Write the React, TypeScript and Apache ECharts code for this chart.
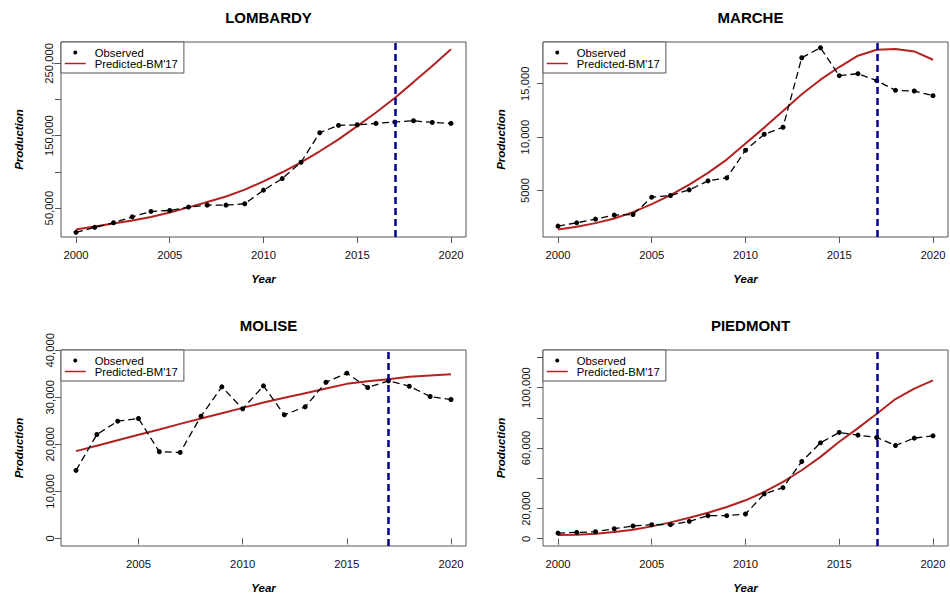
import React, { useEffect, useRef } from "react";
import * as echarts from "echarts";

const yearsAll = [2000, 2001, 2002, 2003, 2004, 2005, 2006, 2007, 2008, 2009, 2010, 2011, 2012, 2013, 2014, 2015, 2016, 2017, 2018, 2019, 2020];
const yearsMolise = [2002, 2003, 2004, 2005, 2006, 2007, 2008, 2009, 2010, 2011, 2012, 2013, 2014, 2015, 2016, 2017, 2018, 2019, 2020];

const lombardyObserved = [16500, 23400, 29800, 38000, 45400, 46800, 51400, 54100, 54100, 56000, 74800, 90800, 113300, 154100, 164200, 165100, 167000, 168800, 170600, 168300, 167000];
const lombardyPredicted = [20600, 24500, 28700, 33000, 37800, 44000, 51000, 58500, 66000, 75500, 87000, 99500, 113300, 128500, 145000, 163300, 182000, 202000, 224000, 246300, 269300];

const marcheObserved = [1667, 1978, 2321, 2695, 2757, 4377, 4533, 5062, 5903, 6184, 8769, 10264, 10919, 17429, 18363, 15747, 15934, 15280, 14376, 14314, 13878];
const marchePredicted = [1355, 1605, 1947, 2383, 2975, 3723, 4564, 5560, 6651, 7897, 9392, 10887, 12445, 14002, 15373, 16557, 17616, 18177, 18239, 18021, 17242];

const moliseObserved = [14440, 22090, 24920, 25490, 18410, 18270, 25980, 32210, 27540, 32420, 26270, 27960, 33200, 35120, 32070, 33490, 32350, 30160, 29520];
const molisePredicted = [18550, 19680, 20880, 22020, 23150, 24350, 25490, 26620, 27750, 28880, 29880, 30870, 31860, 32850, 33420, 33840, 34340, 34620, 34900];

const piedmontObserved = [3757, 4199, 4641, 6630, 8398, 9282, 9282, 11492, 15249, 15249, 16354, 29614, 33813, 51051, 63427, 70278, 68510, 66963, 61659, 66521, 68068];
const piedmontPredicted = [2431, 2652, 3315, 4420, 5967, 8177, 10829, 13923, 17238, 20995, 25415, 30940, 37570, 45305, 54145, 64090, 73151, 82654, 92378, 99229, 104754];

const xTicksAll = [2000, 2005, 2010, 2015, 2020];
const xTicksMolise = [2005, 2010, 2015, 2020];

const lombardyYTicks = [50000, 100000, 150000, 200000, 250000];
const lombardyYLabels = [50000, 150000, 250000];
const marcheYTicks = [5000, 10000, 15000];
const marcheYLabels = [5000, 10000, 15000];
const moliseYTicks = [0, 10000, 20000, 30000, 40000];
const moliseYLabels = [0, 10000, 20000, 30000, 40000];
const piedmontYTicks = [0, 20000, 40000, 60000, 80000, 100000, 120000];
const piedmontYLabels = [0, 20000, 60000, 100000];

const cutoffYear = 2017;
const observedName = "Observed";
const predictedName = "Predicted-BM'17";

const FONT = "'Liberation Sans', Arial, sans-serif";

const panels = [
  { title: "LOMBARDY", years: yearsAll, obs: lombardyObserved, pred: lombardyPredicted, xTicks: xTicksAll, yTicks: lombardyYTicks, yLabels: lombardyYLabels,
    xMin: 1999.2, xMax: 2020.8, yMin: 10100, yMax: 279400, left: 61, top: 42, width: 405, height: 195, labelMargin: 7 },
  { title: "MARCHE", years: yearsAll, obs: marcheObserved, pred: marchePredicted, xTicks: xTicksAll, yTicks: marcheYTicks, yLabels: marcheYLabels,
    xMin: 1999.2, xMax: 2020.8, yMin: 650, yMax: 18900, left: 543, top: 42, width: 405, height: 195, labelMargin: 13 },
  { title: "MOLISE", years: yearsMolise, obs: moliseObserved, pred: molisePredicted, xTicks: xTicksMolise, yTicks: moliseYTicks, yLabels: moliseYLabels,
    xMin: 2001.28, xMax: 2020.72, yMin: -1620, yMax: 40050, left: 61, top: 350, width: 405, height: 196, labelMargin: 6 },
  { title: "PIEDMONT", years: yearsAll, obs: piedmontObserved, pred: piedmontPredicted, xTicks: xTicksAll, yTicks: piedmontYTicks, yLabels: piedmontYLabels,
    xMin: 1999.2, xMax: 2020.8, yMin: -4800, yMax: 124800, left: 543, top: 350, width: 405, height: 196, labelMargin: 12 },
];

const fmt = (v: number) => (Math.abs(v) >= 10000 ? v.toLocaleString("en-US") : String(v));

export default function App() {
  const ref = useRef<HTMLDivElement>(null);
  useEffect(() => {
    if (!ref.current) return;
    const chart = echarts.init(ref.current, undefined, { renderer: "svg" });
    const border = "#555";
    const option: any = {
      animation: false,
      backgroundColor: "#fff",
      title: panels.map((p) => ({
        text: p.title,
        left: p.left + p.width / 2,
        top: p.top - 37,
        textAlign: "center",
        textStyle: { fontFamily: FONT, fontWeight: "bold", fontSize: 15, color: "#000" },
      })),
      grid: panels.map((p) => ({
        left: p.left, top: p.top, width: p.width, height: p.height,
        show: true, borderColor: border, borderWidth: 1, backgroundColor: "transparent",
      })),
      legend: panels.map((p) => ({
        orient: "vertical",
        left: p.left, top: p.top,
        padding: [5, 6, 4, 3],
        itemGap: 0,
        itemWidth: 21,
        itemHeight: 4,
        borderColor: border, borderWidth: 1, backgroundColor: "#fff",
        selectedMode: false,
        textStyle: { fontFamily: FONT, fontSize: 11.3, color: "#000", lineHeight: 11, padding: [0, 0, 0, 4] },
        data: [
          { name: observedName, icon: "circle" },
          { name: predictedName, itemStyle: { opacity: 0, borderWidth: 0 }, lineStyle: { width: 1.5 } },
        ],
        z: 10,
      })),
      xAxis: panels.map((p, i) => ({
        type: "value", gridIndex: i, min: p.xMin, max: p.xMax,
        name: "Year", nameLocation: "middle", nameGap: 36,
        nameTextStyle: { fontFamily: FONT, fontWeight: "bold", fontStyle: "italic", fontSize: 11.5, color: "#000" },
        axisLine: { show: false },
        axisTick: { show: true, length: 6, lineStyle: { color: border }, customValues: p.xTicks },
        axisLabel: { customValues: p.xTicks, margin: 12, fontFamily: FONT, fontSize: 11.3, color: "#111", formatter: (v: number) => String(v) },
        splitLine: { show: false },
      })),
      yAxis: panels.map((p, i) => ({
        type: "value", gridIndex: i, min: p.yMin, max: p.yMax,
        name: "Production", nameLocation: "middle", nameGap: 36,
        nameTextStyle: { fontFamily: FONT, fontWeight: "bold", fontStyle: "italic", fontSize: 11.5, color: "#000" },
        axisLine: { show: false },
        axisTick: { show: true, length: 6, lineStyle: { color: border }, customValues: p.yTicks },
        axisLabel: { customValues: p.yLabels, rotate: 90, margin: p.labelMargin, fontFamily: FONT, fontSize: 11.3, color: "#111", formatter: fmt },
        splitLine: { show: false },
      })),
      series: panels.flatMap((p, i) => [
        {
          name: predictedName, type: "line", xAxisIndex: i, yAxisIndex: i,
          data: p.years.map((y, k) => [y, p.pred[k]]),
          showSymbol: false, symbol: "none",
          lineStyle: { color: "#B22222", width: 2 },
          itemStyle: { color: "#B22222" },
          z: 2,
          markLine: {
            silent: true, symbol: "none", label: { show: false },
            lineStyle: { color: "#00008B", type: [7, 4], width: 2.5 },
            data: [{ xAxis: cutoffYear }],
            z: 5,
          },
        },
        {
          name: observedName, type: "line", xAxisIndex: i, yAxisIndex: i,
          data: p.years.map((y, k) => [y, p.obs[k]]),
          symbol: "circle", symbolSize: 5, showSymbol: true,
          lineStyle: { color: "#000", width: 1.3, type: [7, 4] },
          itemStyle: { color: "#000" },
          z: 3,
        },
      ]),
    };
    chart.setOption(option);
    return () => chart.dispose();
  }, []);
  return <div ref={ref} style={{ position: "fixed", left: 0, top: 0, width: 950, height: 599 }} />;
}
